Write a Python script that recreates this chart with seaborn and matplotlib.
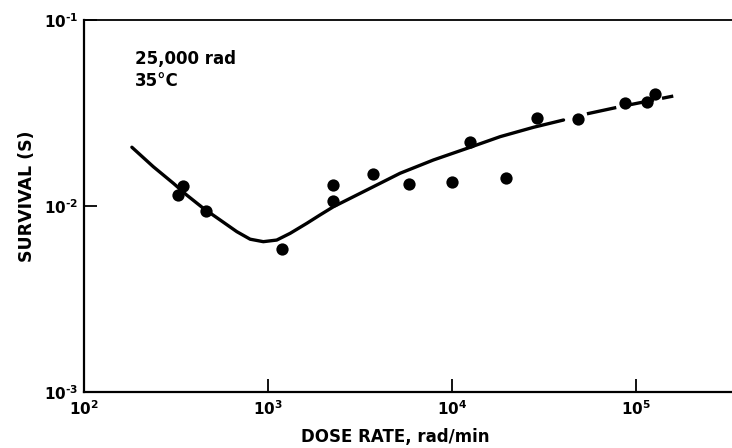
import numpy as np
import pandas as pd
import matplotlib
matplotlib.use("Agg")
import matplotlib.pyplot as plt
import seaborn as sns

# measured points
dose_rate = [325, 345, 460, 1190, 2250, 2250, 3720, 5830, 10000, 12500,
             19600, 29000, 48400, 87000, 115000, 127000]
survival = [0.0114, 0.0128, 0.0094, 0.0059, 0.0130, 0.0106, 0.0149, 0.0131,
            0.0134, 0.0221, 0.0142, 0.0297, 0.0294, 0.0358, 0.0362, 0.0400]

# fitted curve (solid part)
curve_x = [182, 238, 306, 361, 445, 548, 676, 799, 942, 1114, 1318, 1623, 1918,
           2265, 3437, 5214, 7910, 12020, 18240, 27670, 40270]
curve_y = [0.0207, 0.01626, 0.01324, 0.01146, 0.00972, 0.00842, 0.00728, 0.00663,
           0.00643, 0.00656, 0.00713, 0.00807, 0.00896, 0.00991, 0.01219, 0.0150,
           0.01768, 0.0204, 0.0236, 0.0265, 0.0290]
# dashed extrapolation
dash_x = [53950, 81800, 158800]
dash_y = [0.0313, 0.0342, 0.0390]

x_ticks = [1e2, 1e3, 1e4, 1e5]
x_tick_labels = ["10^{2}", "10^{3}", "10^{4}", "10^{5}"]
y_ticks = [1e-3, 1e-2, 1e-1]
y_tick_labels = ["10^{\u2010 3}", "10^{\u2010 2}", "10^{\u2010 1}"]

sns.set_style("ticks")
plt.rcParams["font.family"] = ["DejaVu Sans"]
plt.rcParams["mathtext.fontset"] = "dejavusans"
for k in ["text.color", "axes.labelcolor", "xtick.color", "ytick.color",
          "axes.edgecolor"]:
    plt.rcParams[k] = "black"

fig = plt.figure(figsize=(7.32, 4.48), dpi=100)
ax = fig.add_axes([84 / 732, 1 - 392 / 448, 1 - 84 / 732, (392 - 20) / 448])

ax.set_xscale("log")
ax.set_yscale("log")

df_curve = pd.DataFrame({"x": curve_x, "y": curve_y})
df_dash = pd.DataFrame({"x": dash_x, "y": dash_y})
df_pts = pd.DataFrame({"x": dose_rate, "y": survival})

sns.lineplot(data=df_curve, x="x", y="y", ax=ax, color="black", lw=2.4,
             sort=False, estimator=None)
sns.lineplot(data=df_dash, x="x", y="y", ax=ax, color="black", lw=2.4,
             sort=False, estimator=None, linestyle=(0, (9, 2.5)))
sns.scatterplot(data=df_pts, x="x", y="y", ax=ax, color="black", s=78,
                edgecolor="black", linewidth=0, zorder=5)

ax.set_xlim(1e2, 10 ** 5.52)
ax.set_ylim(1e-3, 1e-1)
ax.minorticks_off()
ax.set_xticks(x_ticks)
ax.set_xticklabels([r"$\mathbf{%s}$" % t for t in x_tick_labels], fontsize=11)
ax.set_yticks(y_ticks)
ax.set_yticklabels([r"$\mathbf{%s}$" % t for t in y_tick_labels], fontsize=11)
ax.tick_params(axis="both", direction="in", length=9.5, width=1.3, color="black",
               labelcolor="black")
ax.tick_params(axis="x", pad=5)
ax.tick_params(axis="y", pad=4)

ax.spines["left"].set_linewidth(1.6)
ax.spines["bottom"].set_linewidth(1.6)
ax.spines["top"].set_linewidth(1.3)
for s in ["left", "bottom", "top"]:
    ax.spines[s].set_color("black")
ax.spines["right"].set_visible(False)

ax.set_xlabel("DOSE RATE, rad/min", fontsize=12, fontweight="bold", color="black")
ax.xaxis.set_label_coords((395 - 84) / 648, (392 - 428) / 372)
ax.xaxis.label.set_va("top")
ax.set_ylabel("SURVIVAL (S)", fontsize=12.5, fontweight="bold", color="black")
ax.yaxis.set_label_coords((27 - 84) / 648, (392 - 196) / 372)
ax.yaxis.label.set_va("center")

ax.text((135 - 84) / 648, (392 - 64) / 372, "25,000 rad", transform=ax.transAxes,
        fontsize=12, fontweight="bold", va="baseline", ha="left", color="black")
ax.text((135 - 84) / 648, (392 - 86) / 372, "35°C", transform=ax.transAxes,
        fontsize=12, fontweight="bold", va="baseline", ha="left", color="black")

fig.savefig("out.png", dpi=100)
